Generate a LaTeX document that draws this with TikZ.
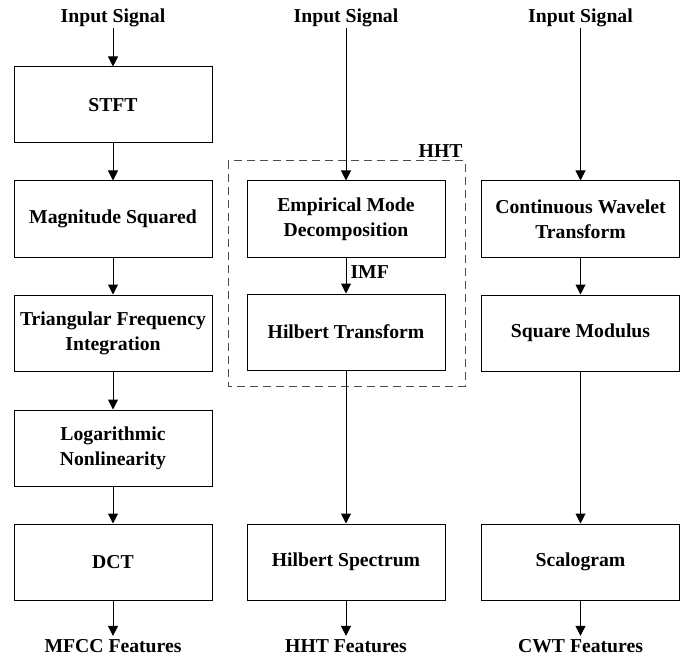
\documentclass[tikz,border=0pt]{standalone}
\usepackage{fontspec}
\setmainfont{Liberation Serif}
\usetikzlibrary{arrows.meta}
\begin{document}
\begin{tikzpicture}[x=1pt,y=-1pt,
    every node/.style={font=\bfseries\fontsize{19.7}{25}\selectfont},
    stage/.style={draw, minimum width=198pt, minimum height=76pt, align=center, inner sep=2pt},
    term/.style={inner sep=1pt},
    >={Triangle[length=10pt,width=10pt]}, line width=1pt]
        \useasboundingbox (0,0) rectangle (690,660);
        % MFCC
        \node [term] (in1) at (113,17.5) {Input Signal};
        \node [stage] (stft) at (113,105) {STFT};
        \node [stage] (mag) at (113,219) {Magnitude Squared};
        \node [stage] (tri) at (113,333) {Triangular Frequency\\Integration};
        \node [stage] (log) at (113,448) {Logarithmic\\Nonlinearity};
        \node [stage] (dct) at (113,562) {DCT};
        \node [term, inner sep=3pt] (out1) at (113,646) {MFCC Features};
        % HHT
        \node [term] (in2) at (346,17.5) {Input Signal};
        \node [stage] (emd) at (346,219) {Empirical Mode\\Decomposition};
        \node [stage] (ht) at (346,332) {Hilbert Transform};
        \node [stage] (hs) at (346,562) {Hilbert Spectrum};
        \node [term, inner sep=3pt] (out2) at (346,646) {HHT Features};
        \draw [dashed, dash pattern=on 8pt off 5pt, black!70] (228,161) rectangle (465,386);
        \node [anchor=east, inner sep=0pt] (hht) at (463,151) {HHT};
        \node [anchor=west, inner sep=0pt] (imf) at (350,272) {IMF};
        % CWT
        \node [term] (in3) at (580.5,17.5) {Input Signal};
        \node [stage] (cwt) at (580.5,219) {Continuous Wavelet\\Transform};
        \node [stage] (sqm) at (580.5,333) {Square Modulus};
        \node [stage] (scal) at (580.5,562) {Scalogram};
        \node [term, inner sep=3pt] (out3) at (580.5,646) {CWT Features};
        \draw [->] (in1) -- (stft);
        \draw [->] (stft) -- (mag);
        \draw [->] (mag) -- (tri);
        \draw [->] (tri) -- (log);
        \draw [->] (log) -- (dct);
        \draw [->] (dct) -- (out1);
        \draw [->] (in2) -- (emd);
        \draw [->] (emd) -- (ht);
        \draw [->] (ht) -- (hs);
        \draw [->] (hs) -- (out2);
        \draw [->] (in3) -- (cwt);
        \draw [->] (cwt) -- (sqm);
        \draw [->] (sqm) -- (scal);
        \draw [->] (scal) -- (out3);
    \end{tikzpicture}
\end{document}
